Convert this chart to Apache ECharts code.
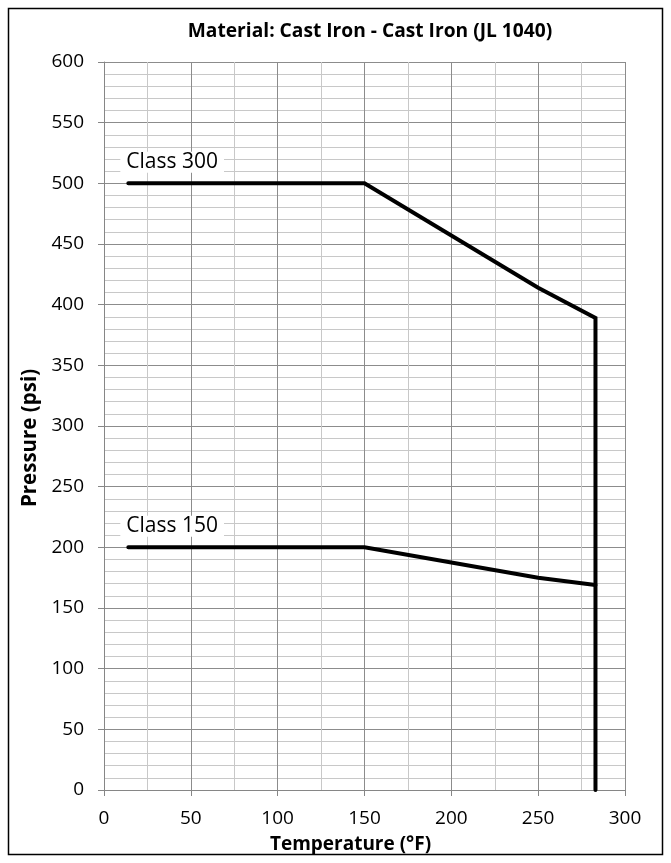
<!DOCTYPE html>
<html><head><meta charset="utf-8">
<script src="https://cdn.jsdelivr.net/npm/echarts@6/dist/echarts.min.js"></script>
<style>html,body{margin:0;padding:0;background:#fff}#c{width:671px;height:863px}</style>
</head><body><div id="c"></div>
<script>
const titleText = 'Material: Cast Iron - Cast Iron (JL 1040)';
const xName = 'Temperature (°F)';
const yName = 'Pressure (psi)';
const class300Temp = [14, 150, 250, 283, 283];
const class300Press = [500, 500, 414, 389, 0];
const class150Temp = [14, 150, 250, 283];
const class150Press = [200, 200, 175, 169];
const seriesNames = ['Class 300', 'Class 150'];

const FONT = '"Open Sans", sans-serif';
const chart = echarts.init(document.getElementById('c'));
function pairs(xs, ys){ return xs.map((x,i)=>[x, ys[i]]); }
function mkSeries(name, data){
  return {
    name, type:'line', data, symbol:'none', animation:false,
    lineStyle:{color:'#000', width:4, cap:'round', join:'miter'},
    markPoint:{
      symbol:'rect', symbolSize:1, itemStyle:{color:'rgba(0,0,0,0)'}, animation:false, silent:true,
      data:[{coord:data[0], value:name}],
      label:{show:true, position:'top', align:'left', distance:10, offset:[-8,0],
        formatter:name, color:'#000', fontSize:21, fontFamily:FONT,
        backgroundColor:'#fff', padding:[0,6,0,6]}
    },
    z:5
  };
}
chart.setOption({
  animation:false,
  title:{text:titleText, left:365, textAlign:'center', top:17, textStyle:{fontFamily:FONT, fontWeight:'bold', fontSize:19.2, color:'#000'}},
  graphic:[{type:'rect', shape:{x:8.5,y:8.5,width:654,height:846}, style:{fill:'none', stroke:'#000', lineWidth:1.5}, silent:true}],
  grid:{left:104, right:46, top:62, bottom:73},
  xAxis:{type:'value', min:0, max:300, interval:50, name:xName, nameLocation:'middle', nameGap:45,
    nameTextStyle:{fontFamily:FONT, fontWeight:'bold', fontSize:19, color:'#000', padding:[0,28,0,0]},
    axisLine:{show:true, lineStyle:{color:'#868686', width:1}},
    axisTick:{show:true, length:6, lineStyle:{color:'#868686'}},
    axisLabel:{fontFamily:FONT, fontSize:19, color:'#000', margin:19},
    splitLine:{show:true, lineStyle:{color:'#8c8c8c', width:1}},
    minorTick:{show:false, splitNumber:2},
    minorSplitLine:{show:true, lineStyle:{color:'#c8c8c8', width:1}}},
  yAxis:{type:'value', min:0, max:600, interval:50, name:yName, nameLocation:'middle', nameGap:58,
    nameTextStyle:{fontFamily:FONT, fontWeight:'bold', fontSize:20.5, color:'#000', padding:[0,24,0,0]},
    axisLine:{show:true, lineStyle:{color:'#868686', width:1}},
    axisTick:{show:true, length:6, lineStyle:{color:'#868686'}},
    axisLabel:{fontFamily:FONT, fontSize:19, color:'#000', margin:20},
    splitLine:{show:true, lineStyle:{color:'#8c8c8c', width:1}},
    minorTick:{show:false, splitNumber:5},
    minorSplitLine:{show:true, lineStyle:{color:'#c8c8c8', width:1}}},
  series:[mkSeries(seriesNames[0], pairs(class300Temp, class300Press)), mkSeries(seriesNames[1], pairs(class150Temp, class150Press))]
});
</script></body></html>
